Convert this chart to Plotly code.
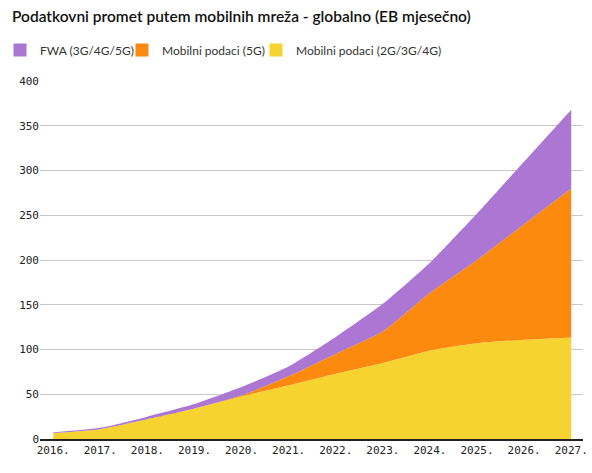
import plotly.graph_objects as go

godine = [2016, 2017, 2018, 2019, 2020, 2021, 2022, 2023, 2024, 2025, 2026, 2027]
oznake = [f"{g}." for g in godine]

# EB mjesecno, procjena iz grafa
mob_2g3g4g = [6.5, 11, 22, 34, 47.5, 60, 73, 85, 99, 107, 111, 113.5]
mob_5g = [0, 0, 0, 0, 1, 10, 22, 35, 64, 93, 129, 166.5]
fwa = [0.8, 1.5, 3, 5, 9.5, 11, 19, 31, 34, 52, 70, 88]

serije = [
    ("Mobilni podaci (2G/3G/4G)", mob_2g3g4g, "#F7D332"),
    ("Mobilni podaci (5G)", mob_5g, "#FB8A0E"),
    ("FWA (3G/4G/5G)", fwa, "#AB77D2"),
]

fig = go.Figure()
for ime, vrijednosti, boja in serije:
    fig.add_trace(go.Scatter(
        x=godine, y=vrijednosti, name=ime, showlegend=False,
        mode="lines", stackgroup="a",
        line=dict(width=0, color=boja, shape="spline", smoothing=0.5),
        fillcolor=boja,
    ))

# kvadratici za legendu, svaki u svojoj legendi da razmaci budu kao na slici
legende = ["legend", "legend2", "legend3"]
legenda_x = [0, 122, 256]
for (ime, vrijednosti, boja), leg in zip(reversed(serije), legende):
    fig.add_trace(go.Scatter(
        x=[None], y=[None], name=ime, mode="markers", legend=leg,
        marker=dict(symbol="square", size=13, color=boja),
    ))

leg_stil = dict(
    orientation="h", xref="container", xanchor="left",
    y=1 - 50 / 473, yref="container", yanchor="middle",
    font=dict(family="Lato", size=12, color="#333"),
    itemwidth=30, bgcolor="rgba(0,0,0,0)",
)

fig.update_layout(
    width=592, height=473,
    margin=dict(l=40, r=9, t=81, b=34, autoexpand=False),
    paper_bgcolor="white", plot_bgcolor="white",
    title=dict(
        text="Podatkovni promet putem mobilnih mreža - globalno (EB mjesečno)",
        x=12 / 592, xref="container", xanchor="left",
        y=1 - 17 / 473, yref="container", yanchor="middle",
        font=dict(family="Lato", size=15.5, color="#111", weight=600),
    ),
    showlegend=True,
)
for leg, lx in zip(legende, legenda_x):
    fig.update_layout({leg: dict(leg_stil, x=lx / 592)})

fig.update_xaxes(
    range=[2015.72, 2027.25], automargin=False,
    tickvals=godine, ticktext=oznake,
    showgrid=False, showline=True, linecolor="#222", linewidth=1.5,
    ticks="", tickfont=dict(family="DejaVu Sans Mono", size=11, color="#222"),
)
fig.update_yaxes(
    range=[0, 400], dtick=50, automargin=False,
    showgrid=True, gridcolor="#c8c8c8", gridwidth=1,
    zeroline=False, ticks="",
    tickfont=dict(family="DejaVu Sans Mono", size=11, color="#222"),
)

fig.write_html(
    "out.html",
    config={"displayModeBar": False},
    post_script="document.body.style.margin='0';",
)
